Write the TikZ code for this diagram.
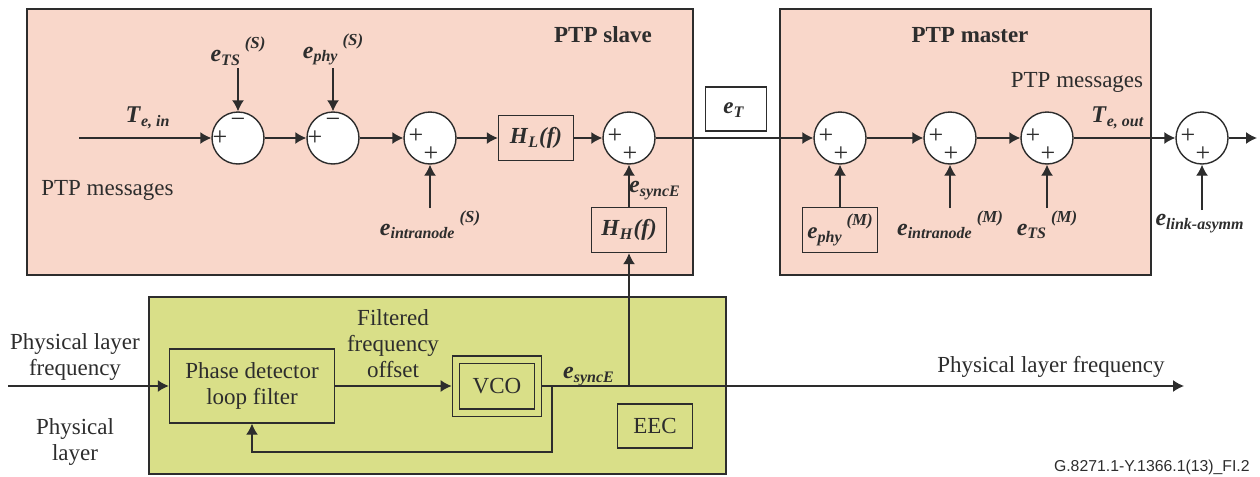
\documentclass[tikz,border=0pt]{standalone}
\usepackage{fontspec}
\setmainfont{Liberation Serif}
\newfontfamily\capfont{Liberation Sans}
\usetikzlibrary{arrows.meta}
\definecolor{ptpfill}{RGB}{249,215,202}
\definecolor{eecfill}{RGB}{217,223,136}
\definecolor{ink}{RGB}{45,45,45}
\newcommand{\bi}[1]{\textbf{\textit{#1}}}
\newcommand{\ev}[2]{\bi{e}\textsubscript{\bi{#1}}\,\raisebox{6.5pt}{\fontsize{8.4}{9}\selectfont\bi{#2}}}
\begin{document}
\begin{tikzpicture}[x=0.5pt, y=-0.5pt, line width=0.7pt, color=ink, >={Latex[length=5.5pt,width=6pt]},
  every node/.style={font=\fontsize{11.5}{13}\selectfont},
  unitbox/.style={draw, fill=ptpfill},
  blk/.style={draw, fill=ptpfill, minimum width=37.5pt, minimum height=22.5pt, inner sep=0pt},
  sumnode/.style={draw, circle, fill=white, minimum size=26pt, inner sep=0pt},
  lbl/.style={font=\fontsize{12}{14}\selectfont, inner sep=1pt},
  sgn/.style={font=\fontsize{13}{13}\selectfont, inner sep=0pt}]
\useasboundingbox (0,0) rectangle (1260,477);
% slave, master and EEC areas
\draw[unitbox] (27,9) rectangle (693,275);
\draw[unitbox] (780,9) rectangle (1151,275);
\draw[fill=eecfill] (149,297) rectangle (726,474);
\node[font=\bfseries\fontsize{11.5}{13}\selectfont] (slv) at (603,35) {PTP slave};
\node[font=\bfseries\fontsize{11.5}{13}\selectfont] (mst) at (970,35) {PTP master};
\node (msgm) at (1077,82) {PTP messages};
\node[anchor=west] (msgs) at (34,190) {PTP messages};
% summing points
\foreach \n/\x in {s1/238, s2/333, s3/430, s4/629, m1/840, m2/950, m3/1047, la/1202}
  \node[sumnode] (\n) at (\x,138) {};
\foreach \n in {s1,s2} {
  \node[sgn] at ([xshift=-9pt]\n.center) {+};
  \node[sgn] at ([yshift=7.5pt]\n.center) {−};
}
\foreach \n in {s3,s4,m1,m2,m3,la} {
  \node[sgn] at ([xshift=-7pt,yshift=1pt]\n.center) {+};
  \node[sgn] at ([xshift=0.5pt,yshift=-8pt]\n.center) {+};
}
% blocks
\node[blk] (hl) at (536,138) {\bi{H}\textsubscript{\bi{L}}\bi{(f)}};
\node[blk] (hh) at (629,230) {\bi{H}\textsubscript{\bi{H}}\bi{(f)}};
\node[blk, fill=white, minimum width=30.5pt, minimum height=22pt] (et) at (736,109) {\ev{T}{}};
\node[blk] (ephy) at (840,230) {\ev{phy}{(M)}};
% error labels
\node[lbl] (tein) at (148,118) {\bi{T}\textsubscript{\bi{e, in}}};
\node[lbl] (teout) at (1118,118) {\bi{T}\textsubscript{\bi{e, out}}};
\node[lbl, anchor=south] (ets) at (238,68) {\ev{TS}{(S)}};
\node[lbl, anchor=south] (ephs) at (333,68) {\ev{phy}{(S)}};
\node[lbl, anchor=north] (eins) at (430,208) {\ev{intranode}{(S)}};
\node[lbl, anchor=north] (einm) at (950,208) {\ev{intranode}{(M)}};
\node[lbl, anchor=north] (etsm) at (1047,208) {\ev{TS}{(M)}};
\node[lbl, anchor=north] (elink) at (1202,210) {\ev{link-asymm}{}};
\node[lbl] (esy) at (657,190) {\ev{syncE}{}};
% signal path
\coordinate (in) at (79,138);
\coordinate (out) at (1257,138);
\foreach \a/\b in {in/s1, s1/s2, s2/s3, s3/hl, hl/s4, s4/m1, m1/m2, m2/m3, m3/la, la/out}
  \draw[->] (\a) -- (\b);
\foreach \a/\b in {ets/s1, ephs/s2}
  \draw[->] (\a.south) -- (\b);
\foreach \a/\b in {eins/s3, einm/m2, etsm/m3, elink/la}
  \draw[->] (\a.north) -- (\b);
\draw[->] (ephy) -- (m1);
\draw[->] (hh) -- (s4);
% physical layer
\node[blk, fill=eecfill, minimum width=82.5pt, minimum height=37pt, align=center] (pd) at (252,386) {Phase detector\\loop filter};
\node[blk, fill=eecfill, double=eecfill, double distance=3pt, outer sep=2.2pt, minimum width=41pt, minimum height=26.5pt] (vco) at (497,386) {VCO};
\node[blk, fill=eecfill, minimum height=22pt] (eec) at (655,426) {EEC};
\node[align=center] (plf) at (75,357) {Physical layer\\frequency};
\node[align=center] (pl) at (75,442) {Physical\\layer};
\node[align=center] (ffo) at (393,344) {Filtered\\frequency\\offset};
\node[lbl] (esyb) at (591,376) {\ev{syncE}{}};
\node (plfo) at (1051,367) {Physical layer frequency};
\node[anchor=east, font=\capfont\fontsize{7.9}{9}\selectfont] (cap) at (1257,467) {G.8271.1-Y.1366.1(13)\_FI.2};
\coordinate (phin) at (8,386);
\coordinate (phout) at (1184,386);
\coordinate (fb) at (552,386);
\coordinate (tap) at (629,386);
\draw[->] (phin) -- (pd);
\draw[->] (pd) -- (vco);
\draw[->] (vco) -- (phout);
\draw[->] (tap) -- (hh);
\draw[->] (fb) -- ++(0,66) -| (pd);
\end{tikzpicture}
\end{document}
